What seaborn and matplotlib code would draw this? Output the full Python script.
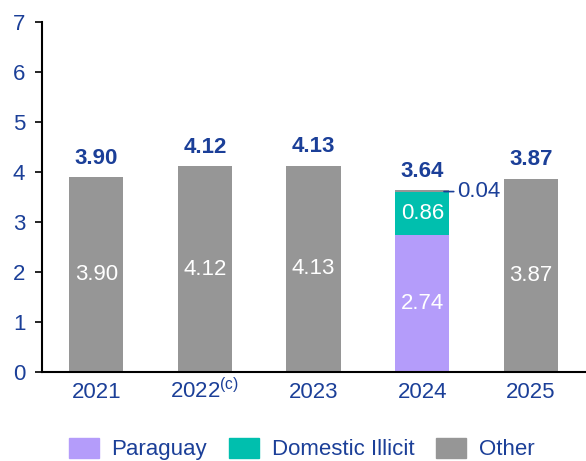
import pandas as pd
import seaborn as sns
import matplotlib.pyplot as plt

years = ['2021', '2022', '2023', '2024', '2025']
year_labels = ['2021', '2022$^{\\mathrm{(c)}}$', '2023', '2024', '2025']
paraguay = [0, 0, 0, 2.74, 0]
domestic = [0, 0, 0, 0.86, 0]
other = [3.90, 4.12, 4.13, 0.04, 3.87]

blue = '#1b3f98'
c_par = '#b49cfa'
c_dom = '#00bfae'
c_oth = '#969696'

sns.set_style('white')
plt.rcParams['font.family'] = ['Liberation Sans', 'DejaVu Sans']
plt.rcParams['mathtext.fontset'] = 'custom'
plt.rcParams['mathtext.rm'] = 'Liberation Sans'

df = pd.DataFrame({'year': years, 'paraguay': paraguay,
                   'domestic': domestic, 'other': other})
df['total'] = df.paraguay + df.domestic + df.other
df['pd'] = df.paraguay + df.domestic

fig = plt.figure(figsize=(5.86, 4.61), dpi=100)
ax = fig.add_axes([0.0717, 0.193, 0.927, 0.759])

# overlay: totals first, then lower segments on top
sns.barplot(data=df, x='year', y='total', color=c_oth, width=0.5,
            saturation=1, linewidth=0, ax=ax)
sns.barplot(data=df, x='year', y='pd', color=c_dom, width=0.5,
            saturation=1, linewidth=0, ax=ax)
sns.barplot(data=df, x='year', y='paraguay', color=c_par, width=0.5,
            saturation=1, linewidth=0, ax=ax)

fs = 16
ax.set_ylim(0, 7)
ax.set_xlim(-0.5, 4.5)
ax.set_yticks(range(8))
ax.set_xticks(range(5))
ax.set_xticklabels(year_labels, va='baseline')
ax.set_xlabel('')
ax.set_ylabel('')
ax.tick_params(axis='y', length=5, width=1.2, color='black', pad=7,
               labelsize=fs, labelcolor=blue, left=True)
ax.tick_params(axis='x', length=0, pad=18.5, labelsize=fs, labelcolor=blue)
for s in ['top', 'right']:
    ax.spines[s].set_visible(False)
for s in ['left', 'bottom']:
    ax.spines[s].set_color('black')
    ax.spines[s].set_linewidth(1.5)

for i, row in df.iterrows():
    ax.annotate(f'{row.total:.2f}', (i, row.total), xytext=(0, 6),
                textcoords='offset points', ha='center', va='bottom',
                fontsize=fs, fontweight='bold', color=blue)
    if row.paraguay > 0:
        ax.text(i, row.paraguay / 2, f'{row.paraguay:.2f}', ha='center',
                va='center', fontsize=fs, color='white')
    if row.domestic > 0:
        ax.text(i, row.paraguay + row.domestic / 2, f'{row.domestic:.2f}',
                ha='center', va='center', fontsize=fs, color='white')
    if row.other > 0.5:
        ax.text(i, row.pd + row.other / 2, f'{row.other:.2f}', ha='center',
                va='center', fontsize=fs, color='white')
    elif row.other > 0:
        ax.annotate(f'{row.other:.2f}', (i + 0.2, row.total - 0.03),
                    xytext=(i + 0.32, row.total - 0.03), ha='left',
                    va='center', fontsize=fs, color=blue,
                    arrowprops=dict(arrowstyle='-', color=blue, lw=1.2,
                                    shrinkA=0, shrinkB=0))

handles = [plt.Rectangle((0, 0), 1, 1, color=c) for c in [c_par, c_dom, c_oth]]
fig.legend(handles, ['Paraguay', 'Domestic Illicit', 'Other'],
           loc='center', bbox_to_anchor=(0.515, 0.026), ncol=3, frameon=False,
           fontsize=fs, labelcolor=blue, handlelength=1.35, handleheight=1.0,
           handletextpad=0.55, columnspacing=1.0)

fig.savefig('out.png', dpi=100)
